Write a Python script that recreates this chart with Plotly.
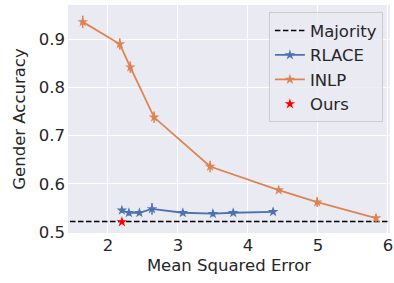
import plotly.graph_objects as go

# Data
inlp_x = [1.64, 2.17, 2.32, 2.66, 3.46, 4.44, 4.99, 5.83]
inlp_y = [0.936, 0.890, 0.842, 0.738, 0.636, 0.587, 0.562, 0.529]
inlp_err = [0.013, 0.012, 0.012, 0.012, 0.012, 0.004, 0.010, 0.008]

rlace_x = [2.20, 2.30, 2.45, 2.63, 3.07, 3.50, 3.79, 4.36]
rlace_y = [0.545, 0.540, 0.540, 0.548, 0.540, 0.538, 0.540, 0.542]
rlace_err = [0.005, 0.006, 0.004, 0.012, 0.005, 0.006, 0.004, 0.004]

ours_x = [2.20]
ours_y = [0.521]
ours_err = [0.002]

majority = 0.522

x_range = [1.43, 6.03]
y_range = [0.498, 0.971]
x_ticks = [2, 3, 4, 5, 6]
y_ticks = [0.5, 0.6, 0.7, 0.8, 0.9]

BLUE = "#4C72B0"
ORANGE = "#DD8452"
RED = "#FF0000"
FS = 16.5

fig = go.Figure()
fig.add_trace(go.Scatter(
    x=[x_range[0] - 1, x_range[1] + 1], y=[majority, majority], mode="lines", name="Majority",
    legendgroup="a", line=dict(color="black", width=1.5, dash="5.5px,2.5px")))
fig.add_trace(go.Scatter(
    x=rlace_x, y=rlace_y, mode="lines+markers", name="RLACE", legendgroup="b",
    line=dict(color=BLUE, width=1.8),
    marker=dict(symbol="star", size=8, color=BLUE),
    error_y=dict(type="data", array=rlace_err, color=BLUE, thickness=1.5, width=0)))
fig.add_trace(go.Scatter(
    x=inlp_x, y=inlp_y, mode="lines+markers", name="INLP", legendgroup="c",
    line=dict(color=ORANGE, width=1.8),
    marker=dict(symbol="star", size=8, color=ORANGE),
    error_y=dict(type="data", array=inlp_err, color=ORANGE, thickness=1.5, width=0)))
fig.add_trace(go.Scatter(
    x=ours_x, y=ours_y, mode="markers", name="Ours", legendgroup="d",
    marker=dict(symbol="star", size=8, color=RED),
    error_y=dict(type="data", array=ours_err, color=RED, thickness=1.5, width=0)))

font = "DejaVu Sans, Arial, sans-serif"
fig.update_layout(
    width=394, height=283,
    margin=dict(l=68, r=4, t=5, b=50),
    paper_bgcolor="white", plot_bgcolor="#EAEAF2",
    font=dict(family=font, size=FS, color="#262626"),
    showlegend=True,
    legend=dict(x=0.978, y=0.968, xanchor="right", yanchor="top",
                bgcolor="rgba(234,234,242,0.8)", bordercolor="#CCCCCC", borderwidth=1,
                font=dict(size=FS), traceorder="grouped", tracegroupgap=0, itemwidth=30),
    xaxis=dict(range=x_range, tickvals=x_ticks, showgrid=True, gridcolor="white",
               gridwidth=1, zeroline=False, showline=False, ticks="", automargin=False,
               tickfont=dict(size=FS),
               title=dict(text="Mean Squared Error", standoff=5, font=dict(size=FS))),
    yaxis=dict(range=y_range, tickvals=y_ticks, showgrid=True, gridcolor="white",
               gridwidth=1, zeroline=False, showline=False, ticks="", automargin=False,
               tickfont=dict(size=FS), ticklabelstandoff=2,
               title=dict(text="Gender Accuracy", standoff=8, font=dict(size=FS))),
)
fig.write_html("out.html", config={"displayModeBar": False},
               post_script="document.body.style.margin='0';")
